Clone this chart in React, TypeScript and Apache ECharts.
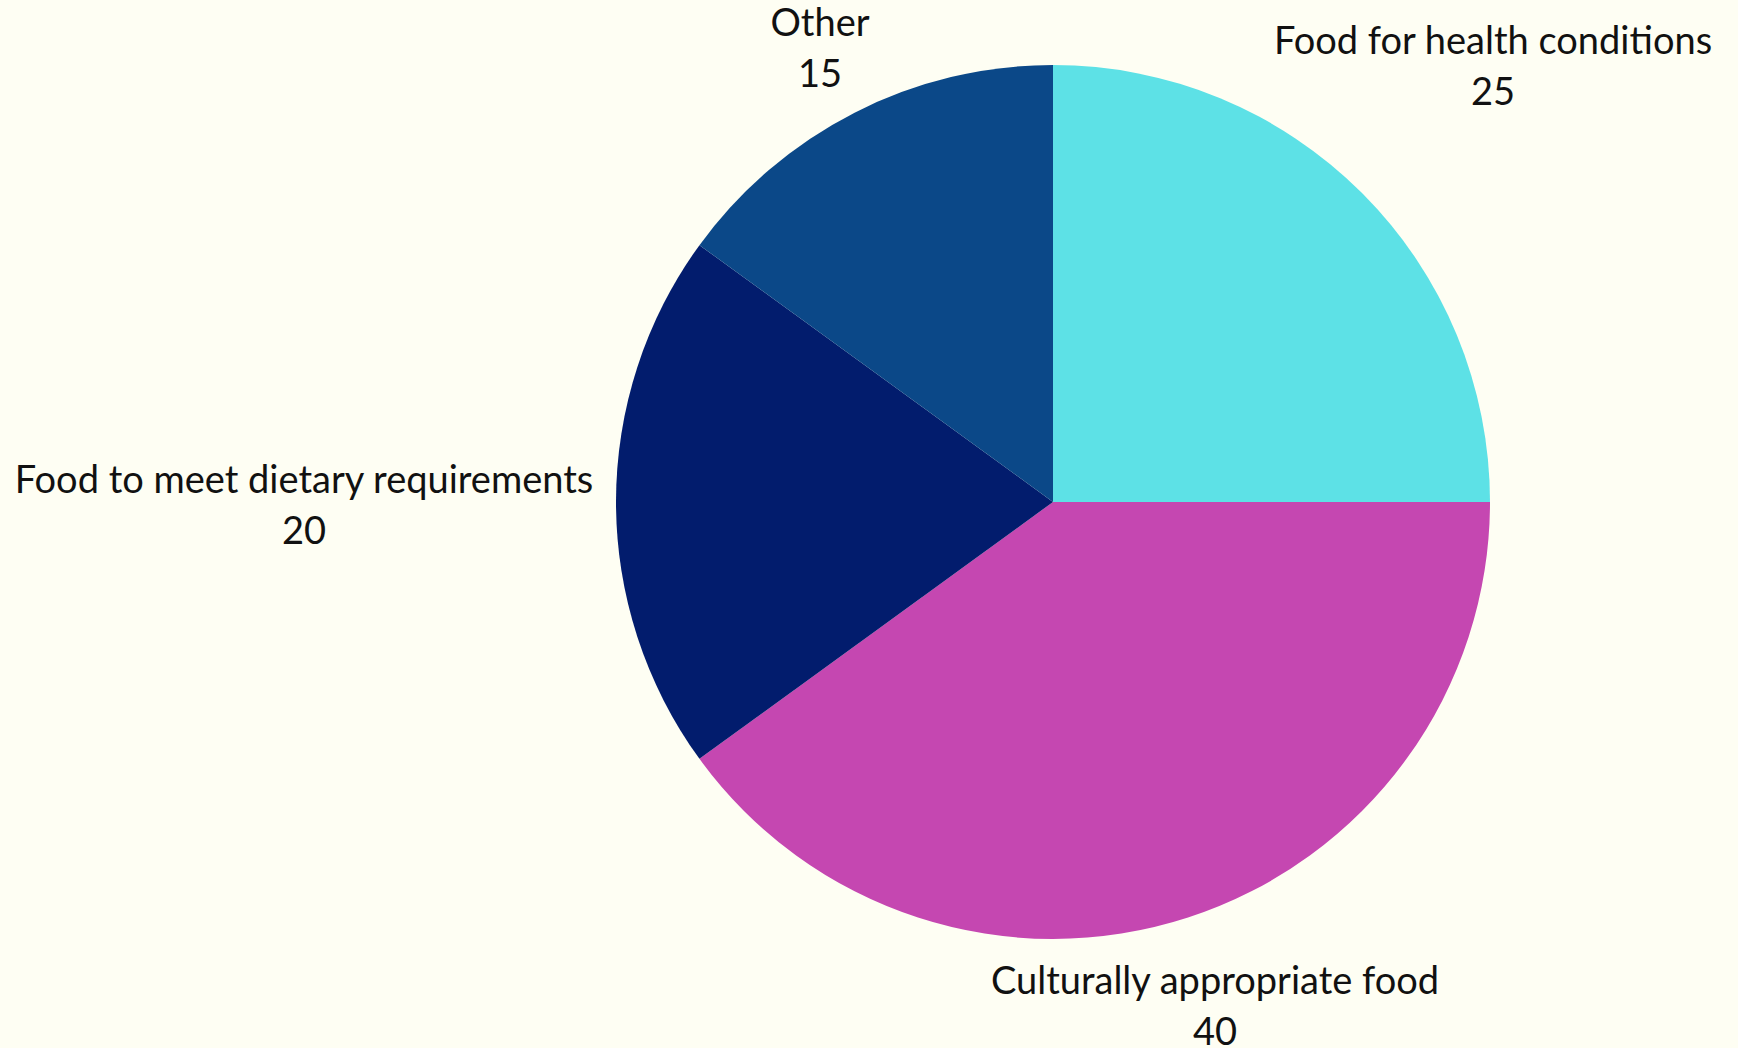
import React, { useEffect, useRef } from "react";
import * as echarts from "echarts";

const categories = [
  "Food for health conditions",
  "Culturally appropriate food",
  "Food to meet dietary requirements",
  "Other",
];
const values = [25, 40, 20, 15];
const colors = ["#5DE1E6", "#C547B1", "#021C6D", "#0B4888"];
// label block centres, in pixels
const labelPos = [
  [1493, 64],
  [1215, 1004],
  [304, 503],
  [820, 46],
];

export default function App() {
  const ref = useRef<HTMLDivElement>(null);
  useEffect(() => {
    const chart = echarts.init(ref.current!, null, { renderer: "svg" });
    chart.setOption({
      animation: false,
      backgroundColor: "#FEFEF3",
      series: [
        {
          type: "pie",
          center: [1053, 502],
          radius: 437,
          startAngle: 90,
          clockwise: true,
          data: categories.map((c, i) => ({
            name: c,
            value: values[i],
            itemStyle: { color: colors[i] },
          })),
          itemStyle: { borderWidth: 0 },
          label: {
            show: true,
            position: "outside",
            formatter: "{b}\n{c}",
            fontFamily: "Lato",
            fontSize: 38,
            lineHeight: 51,
            color: "#111111",
            align: "center",
            overflow: "none",
          },
          labelLine: { show: false },
          labelLayout: (p: any) => ({
            x: labelPos[p.dataIndex][0],
            y: labelPos[p.dataIndex][1],
            align: "center",
            verticalAlign: "middle",
          }),
          emphasis: { disabled: true },
        },
      ],
    });
    return () => chart.dispose();
  }, []);
  return (
    <div
      ref={ref}
      style={{ position: "fixed", left: 0, top: 0, width: 1738, height: 1048 }}
    />
  );
}
